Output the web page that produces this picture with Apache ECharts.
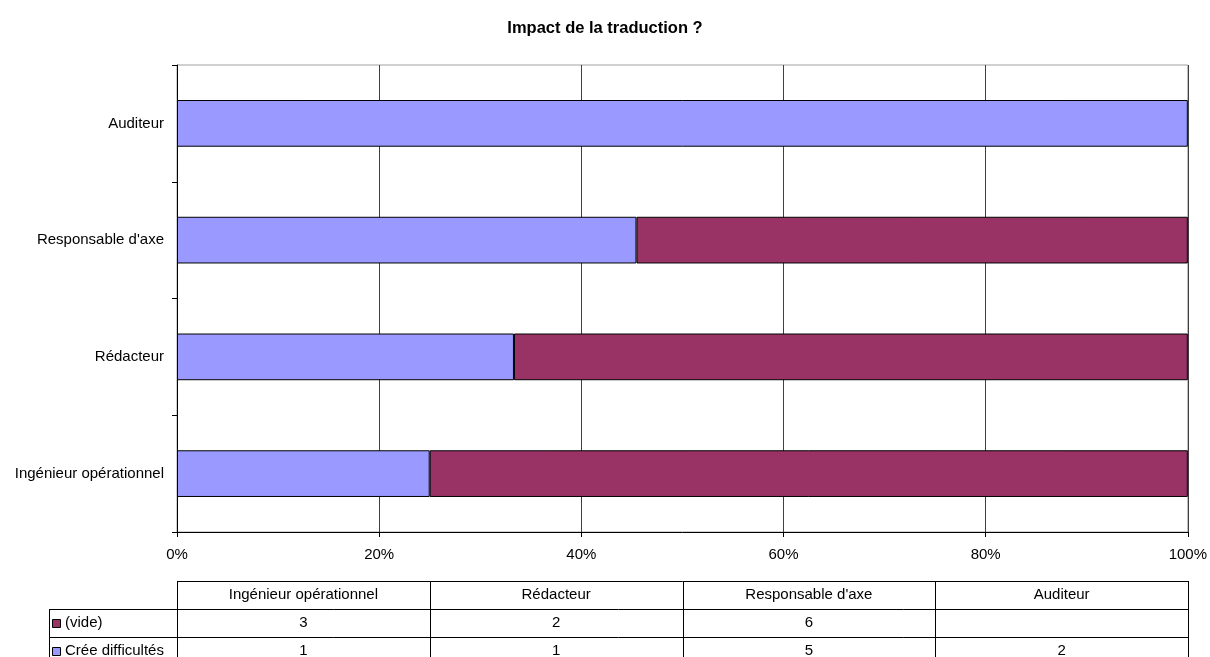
<!DOCTYPE html>
<html>
<head>
<meta charset="utf-8">
<script src="https://cdn.jsdelivr.net/npm/echarts@6/dist/echarts.min.js"></script>
<style>html,body{margin:0;padding:0;background:#fff}#c{width:1210px;height:657px}</style>
</head>
<body>
<div id="c"></div>
<script>
const categories = ["Ingénieur opérationnel", "Rédacteur", "Responsable d'axe", "Auditeur"];
const seriesNames = ["(vide)", "Crée difficultés"];
const videValues = [3, 2, 6, null];
const creeValues = [1, 1, 5, 2];
const tickLabels = ["0%", "20%", "40%", "60%", "80%", "100%"];

const colors = { vide: '#993366', cree: '#9999FF' };
const FONT = '"Liberation Sans", Arial, sans-serif';
const FS = 15;

const totals = categories.map((_, i) => (videValues[i] || 0) + (creeValues[i] || 0));
const pct = (arr) => arr.map((v, i) => v == null ? null : v / totals[i] * 100);

const W = 1210, H = 657;
const G = { left: 177, right: 22, top: 65, bottom: 125 };
const gx0 = G.left, gx1 = W - G.right;
const colW = (gx1 - gx0) / categories.length;
const tTop = 581, rowH = 28, legLeft = 49;

const chart = echarts.init(document.getElementById('c'), null, { renderer: 'canvas' });

const graphics = [];
const lineStyle = { stroke: '#000', lineWidth: 1 };
function hline(x1, x2, y) { graphics.push({ type: 'line', shape: { x1, y1: y + 0.5, x2, y2: y + 0.5 }, style: lineStyle, silent: true }); }
function vline(x, y1, y2) { graphics.push({ type: 'line', shape: { x1: x + 0.5, y1, x2: x + 0.5, y2 }, style: lineStyle, silent: true }); }
function txt(x, y, s, align) { graphics.push({ type: 'text', x, y, style: { text: s, font: FS + 'px ' + FONT, fill: '#000', align: align || 'center', verticalAlign: 'middle' }, silent: true }); }

// table frame
hline(gx0, gx1, tTop);
hline(legLeft, gx1, tTop + rowH);
hline(legLeft, gx1, tTop + 2 * rowH);
for (let i = 0; i <= categories.length; i++) vline(Math.round(gx0 + i * colW), tTop, H);
vline(legLeft, tTop + rowH, H);
// header
categories.forEach((c, i) => txt(gx0 + (i + 0.5) * colW, tTop + rowH / 2, c));
// rows
const rows = [
  { name: seriesNames[0], vals: videValues, color: colors.vide },
  { name: seriesNames[1], vals: creeValues, color: colors.cree }
];
rows.forEach((r, ri) => {
  const yc = tTop + rowH * (ri + 1.5);
  graphics.push({ type: 'rect', shape: { x: legLeft + 3.5, y: Math.round(yc - 4) + 0.5, width: 8, height: 8 }, style: { fill: r.color, stroke: '#000', lineWidth: 1 }, silent: true });
  txt(legLeft + 16, yc, r.name, 'left');
  r.vals.forEach((v, i) => { if (v != null) txt(gx0 + (i + 0.5) * colW, yc, String(v)); });
});

chart.setOption({
  animation: false,
  backgroundColor: '#fff',
  title: {
    text: 'Impact de la traduction ?',
    left: 'center', top: 15,
    textStyle: { fontFamily: FONT, fontSize: 16.5, fontWeight: 'bold', color: '#000' }
  },
  grid: { left: G.left, right: G.right, top: G.top, bottom: G.bottom, show: true, borderColor: '#a0a0a0', borderWidth: 1, backgroundColor: 'transparent' },
  xAxis: {
    type: 'value', min: 0, max: 100, interval: 20,
    axisLine: { show: true, lineStyle: { color: '#000', width: 1 } },
    axisTick: { show: true, length: 5, inside: false, lineStyle: { color: '#000' } },
    axisLabel: { formatter: (v) => tickLabels[Math.round(v / 20)], fontFamily: FONT, fontSize: FS, color: '#000', margin: 15 },
    splitLine: { show: true, lineStyle: { color: '#404040', width: 1 } }
  },
  yAxis: {
    type: 'category', data: categories,
    axisLine: { show: true, lineStyle: { color: '#000', width: 1 } },
    axisTick: { show: true, length: 5, alignWithLabel: false, lineStyle: { color: '#000' } },
    axisLabel: { fontFamily: FONT, fontSize: FS, color: '#000', margin: 13 },
    splitLine: { show: false }
  },
  series: [
    {
      name: seriesNames[1], type: 'bar', stack: 'total', data: pct(creeValues),
      barCategoryGap: '60%',
      itemStyle: { color: colors.cree, borderColor: '#000', borderWidth: 1 }
    },
    {
      name: seriesNames[0], type: 'bar', stack: 'total', data: pct(videValues),
      barCategoryGap: '60%',
      itemStyle: { color: colors.vide, borderColor: '#000', borderWidth: 1 }
    }
  ],
  graphic: graphics
});
</script>
</body>
</html>
